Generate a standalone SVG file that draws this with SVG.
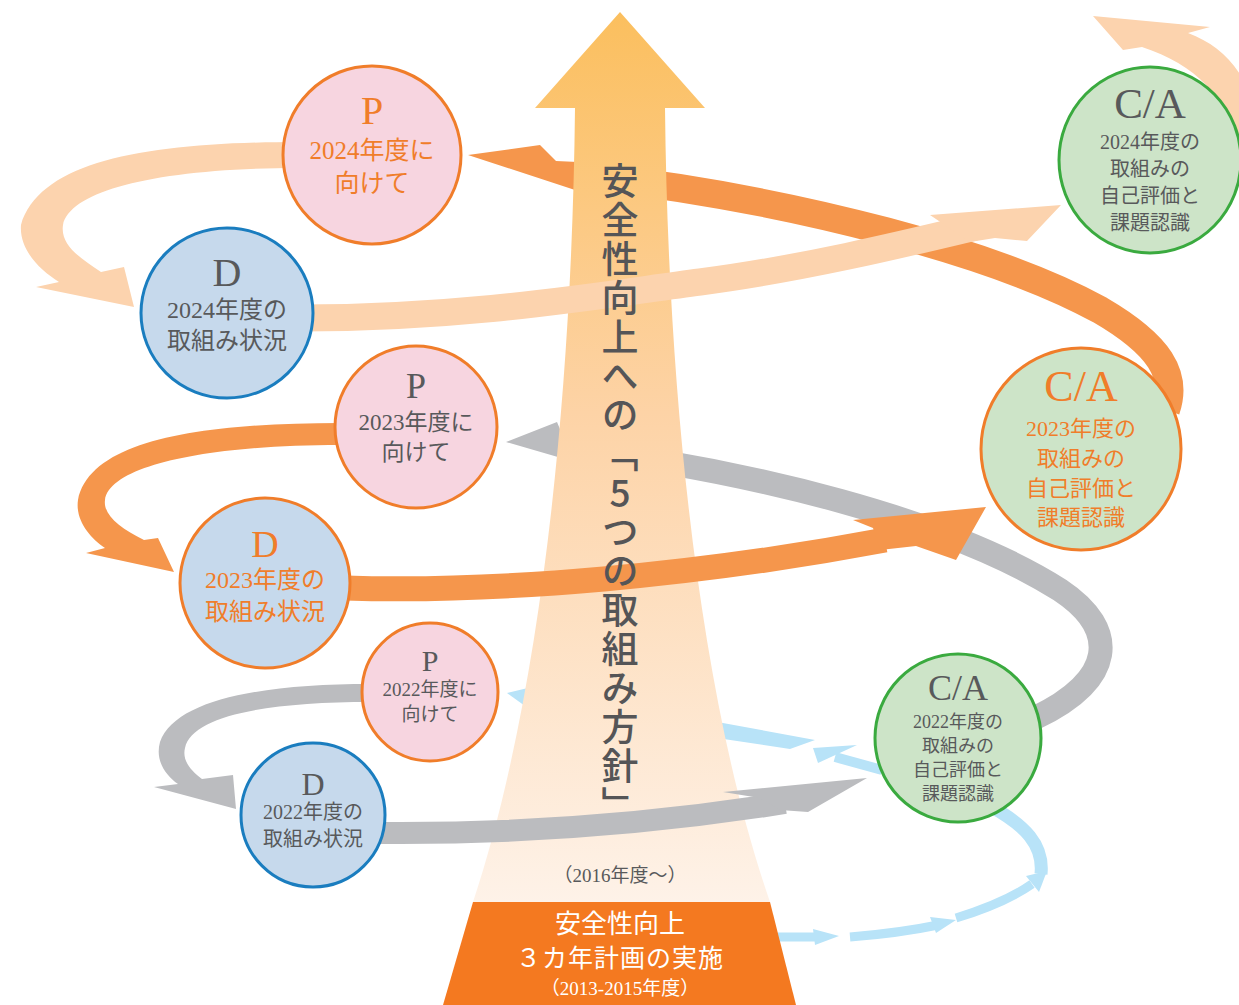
<svg xmlns="http://www.w3.org/2000/svg" width="1239" height="1005" viewBox="0 0 1239 1005">
<style>
.peach{fill:#FCD3AE}
.peachS{fill:none;stroke:#FCD3AE}
.org{fill:#F5964C}
.orgS{fill:none;stroke:#F5964C}
.gray{fill:#BBBCBF}
.grayS{fill:none;stroke:#BBBCBF}
.blue{fill:#B8E3F8}
.blueS{fill:none;stroke:#B8E3F8}
.pink{fill:#F7D5E0}
.lblue{fill:#C6D9EC}
.green{fill:#CDE4C8}
.so{stroke:#F07D2A;stroke-width:3}
.sb{stroke:#1A7DBF;stroke-width:3}
.sg{stroke:#3AAA3F;stroke-width:3}
text{font-family:"Liberation Serif","Noto Sans CJK JP",serif;text-anchor:middle}
.tg{fill:#58595B}
.to{fill:#F07D2A}
.vt{font-family:"Noto Sans CJK JP",sans-serif;font-size:37px;font-weight:500;fill:#555557;writing-mode:vertical-rl;text-orientation:upright;letter-spacing:2px;text-anchor:start}
.wt{fill:#FFFFFF}
</style>
<defs>
<linearGradient id="shaft" x1="0" y1="12" x2="0" y2="902" gradientUnits="userSpaceOnUse">
<stop offset="0" stop-color="#FBBF5E"/>
<stop offset="0.45" stop-color="#FDD3A6"/>
<stop offset="1" stop-color="#FEF2E8"/>
</linearGradient>
</defs>

<g id="connectors-back">
<!-- orange C/A2023 -> P2024 -->
<path class="orgS" stroke-width="28" d="M 590 176 C 800 200, 1000 255, 1100 310 C 1160 345, 1178 375, 1166 410"/>
<polygon class="org" points="468,155 540,145 556,161 600,163 600,195 575,190"/>
<!-- gray C/A2022 -> P2023 -->
<path class="grayS" stroke-width="24" d="M 560 447 C 750 470, 950 520, 1060 590 C 1120 630, 1115 680, 1035 718"/>
<polygon class="gray" points="506,442 557,422 562,434 600,440 600,470 575,462"/>
<!-- light blue chain -->
<path class="blueS" stroke-width="9" d="M 760 937 L 818 937"/>
<polygon class="blue" points="813,929 839,936 815,945"/>
<path class="blueS" stroke-width="9" d="M 850 937 Q 900 933, 938 925"/>
<polygon class="blue" points="930,917 956,920 936,933"/>
<path class="blueS" stroke-width="9" d="M 956 918 Q 1005 903, 1032 884"/>
<polygon class="blue" points="1026,876 1047,871 1039,892"/>
<path class="blueS" stroke-width="13" d="M 1041 874 C 1044 845, 1025 825, 990 806"/>
<path class="blueS" stroke-width="10" d="M 882 770 L 835 757"/>
<polygon class="blue" points="813,748 857,745 818,763"/>
<polygon class="blue" points="690,717 815,740 790,749 690,734"/>
<polygon class="blue" points="507,693 532,687 532,711"/>
</g>

<g id="main-arrow">
<path fill="url(#shaft)" d="M 620 12 L 705 108 L 665 108 C 668 400, 700 700, 770 902 L 473 902 C 540 700, 572 400, 575 108 L 535 108 Z"/>
<polygon fill="#F47920" points="473,902 770,902 796,1005 443,1005"/>
<text class="tg" x="620" y="882" font-size="19">（2016年度～）</text>
<text class="wt" x="620" y="933" font-size="26">安全性向上</text>
<text class="wt" x="620" y="967" font-size="25" letter-spacing="1">３カ年計画の実施</text>
<text class="wt" x="620" y="995" font-size="19">（2013-2015年度）</text>
</g>

<g id="connectors-front">
<!-- peach loop P2024 -> D2024 -->
<path class="peach" d="M 300 142 C 150 142, 40 160, 21 225 C 19 250, 40 270, 59 282 L 36 287 L 134 307 L 124 267 L 101 272 C 80 258, 60 245, 63 225 C 70 190, 160 168, 300 168 Z"/>
<!-- orange loop P2023 -> D2023 -->
<path class="org" d="M 340 423 C 200 423, 90 440, 78 500 C 75 520, 90 538, 105 548 L 86 553 L 174 572 L 158 538 L 144 540 C 120 528, 103 515, 105 500 C 110 465, 210 445, 340 445 Z"/>
<!-- gray loop P2022 -> D2022 -->
<path class="gray" d="M 370 684 C 260 684, 175 700, 160 742 C 155 760, 165 775, 178 784 L 154 787 L 236 809 L 233 775 L 202 779 C 190 770, 182 760, 185 748 C 192 715, 270 702, 370 702 Z"/>
<!-- gray D2022 -> C/A2022 -->
<path class="grayS" stroke-width="22" d="M 380 833 C 500 834, 640 826, 785 803"/>
<polygon class="gray" points="723,792 867,778 808,812 780,810 760,798"/>
<!-- orange D2023 -> C/A2023 -->
<path class="orgS" stroke-width="25" d="M 345 588 C 500 593, 700 575, 885 540"/>
<polygon class="org" points="853,520 986,507 956,560 916,546 880,550 873,528"/>
<!-- peach D2024 -> C/A2024 -->
<path class="peachS" stroke-width="27" d="M 300 318 C 470 318, 600 295, 700 282 S 900 245, 975 227"/>
<polygon class="peach" points="930,215 1061,205 1027,241 995,238 970,242"/>
<!-- peach C/A2024 -> next -->
<path class="peach" d="M 1093 16 L 1210 27 L 1188 33 C 1228 48, 1255 80, 1258 140 L 1232 140 C 1230 100, 1195 64, 1142 47 L 1123 50 Z"/>
</g>

<g id="node-p2024">
<ellipse class="pink so" cx="372" cy="155" rx="89" ry="89"/>
<text class="to" x="372" y="124" font-size="40">P</text>
<text class="to" x="372" y="159" font-size="25">2024年度に</text>
<text class="to" x="372" y="192" font-size="25">向けて</text>
</g>
<g id="node-d2024">
<ellipse class="lblue sb" cx="227" cy="313" rx="86" ry="85"/>
<text class="tg" x="227" y="286" font-size="40">D</text>
<text class="tg" x="227" y="318" font-size="24">2024年度の</text>
<text class="tg" x="227" y="349" font-size="24">取組み状況</text>
</g>
<g id="node-ca2024">
<ellipse class="green sg" cx="1150" cy="160" rx="91" ry="93"/>
<text class="tg" x="1150" y="118" font-size="43">C/A</text>
<text class="tg" x="1150" y="149" font-size="20">2024年度の</text>
<text class="tg" x="1150" y="176" font-size="20">取組みの</text>
<text class="tg" x="1150" y="203" font-size="20">自己評価と</text>
<text class="tg" x="1150" y="230" font-size="20">課題認識</text>
</g>
<g id="node-p2023">
<ellipse class="pink so" cx="416" cy="427" rx="81" ry="81"/>
<text class="tg" x="416" y="398" font-size="36">P</text>
<text class="tg" x="416" y="430" font-size="23">2023年度に</text>
<text class="tg" x="416" y="460" font-size="23">向けて</text>
</g>
<g id="node-d2023">
<ellipse class="lblue so" cx="265" cy="583" rx="85" ry="85"/>
<text class="to" x="265" y="557" font-size="38">D</text>
<text class="to" x="265" y="588" font-size="24">2023年度の</text>
<text class="to" x="265" y="620" font-size="24">取組み状況</text>
</g>
<g id="node-ca2023">
<ellipse class="green so" cx="1081" cy="449" rx="100" ry="101"/>
<text class="to" x="1081" y="401" font-size="44">C/A</text>
<text class="to" x="1081" y="436" font-size="22">2023年度の</text>
<text class="to" x="1081" y="466" font-size="22">取組みの</text>
<text class="to" x="1081" y="496" font-size="22">自己評価と</text>
<text class="to" x="1081" y="525" font-size="22">課題認識</text>
</g>
<g id="node-p2022">
<ellipse class="pink so" cx="430" cy="692" rx="68" ry="69"/>
<text class="tg" x="430" y="671" font-size="30">P</text>
<text class="tg" x="430" y="696" font-size="19">2022年度に</text>
<text class="tg" x="430" y="721" font-size="19">向けて</text>
</g>
<g id="node-d2022">
<ellipse class="lblue sb" cx="313" cy="815" rx="72" ry="72"/>
<text class="tg" x="313" y="795" font-size="32">D</text>
<text class="tg" x="313" y="819" font-size="20">2022年度の</text>
<text class="tg" x="313" y="846" font-size="20">取組み状況</text>
</g>
<g id="node-ca2022">
<ellipse class="green sg" cx="958" cy="738" rx="83" ry="84"/>
<text class="tg" x="958" y="700" font-size="36">C/A</text>
<text class="tg" x="958" y="728" font-size="18">2022年度の</text>
<text class="tg" x="958" y="752" font-size="18">取組みの</text>
<text class="tg" x="958" y="776" font-size="18">自己評価と</text>
<text class="tg" x="958" y="800" font-size="18">課題認識</text>
</g>

<g id="title">
<text class="vt" x="620" y="162">安全性向上への「5つの取組み方針」</text>
</g>
</svg>
